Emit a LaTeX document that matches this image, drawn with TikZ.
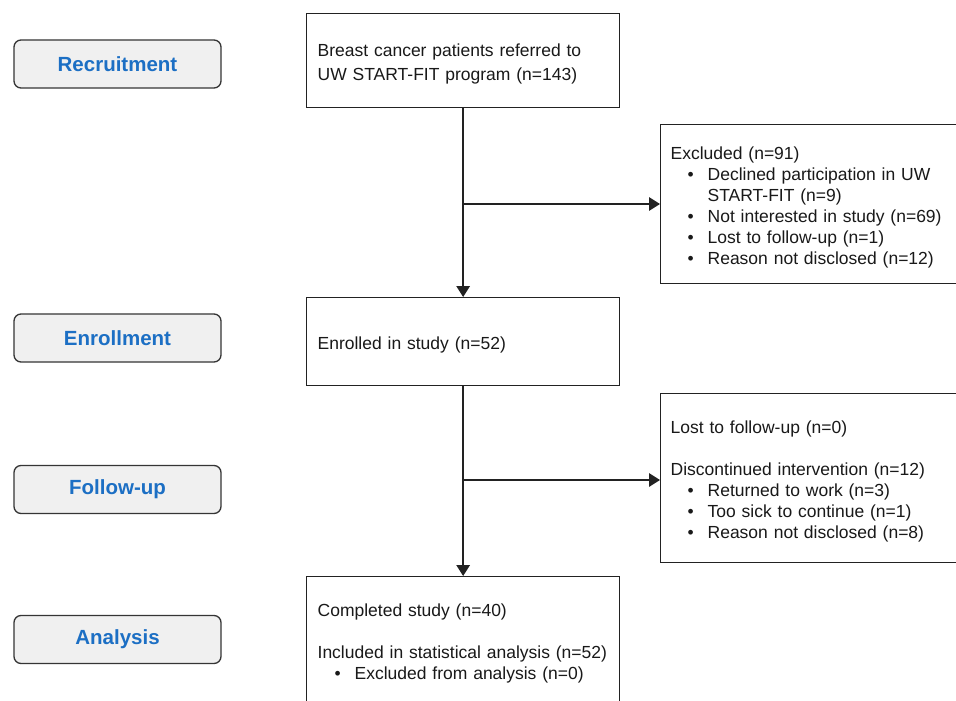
\documentclass[tikz,border=0pt]{standalone}
\usepackage{fontspec}
\setmainfont{Liberation Sans}
\usetikzlibrary{arrows.meta}
\definecolor{stageblue}{HTML}{1C6FC4}
\definecolor{stagefill}{HTML}{F0F0F0}
\definecolor{stageline}{HTML}{353535}
\definecolor{boxline}{HTML}{222222}
\newcommand{\blt}{\makebox[37pt][l]{\hspace{17pt}\textbullet}}
\newcommand{\bltpad}{\hspace*{37pt}}
\newcommand{\topfix}{\rule{0pt}{18.8pt}}
\begin{document}
\begin{tikzpicture}[x=1pt,y=-1pt,
  stagebox/.style={draw=stageline, fill=stagefill, line width=1.3pt, rounded corners=7pt,
    minimum width=207pt, minimum height=48pt, inner sep=0pt,
    font=\fontsize{20.5}{24}\selectfont\bfseries, text=stageblue},
  flowbox/.style={draw=boxline, line width=1.3pt, anchor=north west, inner xsep=11pt,
    inner ysep=0pt, align=left, font=\fontsize{17.5}{21}\selectfont, text=black!90},
  sidebox/.style={flowbox, inner xsep=10pt, text width=282pt},
  arr/.style={draw=boxline, line width=1.5pt, -{Triangle[width=13.5pt,length=11pt]}},
]
\useasboundingbox[fill=white] (0,0) rectangle (956,701);
\clip (0,0) rectangle (956,701);

% stage labels
\node[stagebox] (s1) at (117.5,64) {Recruitment};
\node[stagebox] (s2) at (117.5,338) {Enrollment};
\node[stagebox] (s3) at (117.5,489.5) {Follow-up};
\node[stagebox] (s4) at (117.5,639.5) {Analysis};

% main flow
\node[flowbox, text width=291pt, minimum height=94pt, font=\fontsize{17.5}{24}\selectfont] (b1) at (306,13)
  {\topfix Breast cancer patients referred to\\UW START-FIT program (n=143)};
\node[flowbox, text width=291pt, minimum height=88pt] (b2) at (306,297)
  {\topfix Enrolled in study (n=52)};
\node[flowbox, text width=291pt, minimum height=127pt] (b3) at (306,576)
  {\topfix Completed study (n=40)\\[21pt]Included in statistical analysis (n=52)\\\blt Excluded from analysis (n=0)};

% side boxes
\node[sidebox, minimum height=159pt] (e1) at (660,124)
  {\topfix Excluded (n=91)\\\blt Declined participation in UW\\\bltpad START-FIT (n=9)\\\blt Not interested in study (n=69)\\\blt Lost to follow-up (n=1)\\\blt Reason not disclosed (n=12)};
\node[sidebox, minimum height=169pt] (e2) at (660,393)
  {\topfix Lost to follow-up (n=0)\\[21pt]Discontinued intervention (n=12)\\\blt Returned to work (n=3)\\\blt Too sick to continue (n=1)\\\blt Reason not disclosed (n=8)};

% connectors
\coordinate (j1) at (b1.south |- 0,204);
\coordinate (j2) at (b2.south |- 0,480);
\draw[arr] (b1.south) -- (b2.north);
\draw[arr] (j1) -- (j1 -| e1.west);
\draw[arr] (b2.south) -- (b3.north);
\draw[arr] (j2) -- (j2 -| e2.west);
\end{tikzpicture}
\end{document}
